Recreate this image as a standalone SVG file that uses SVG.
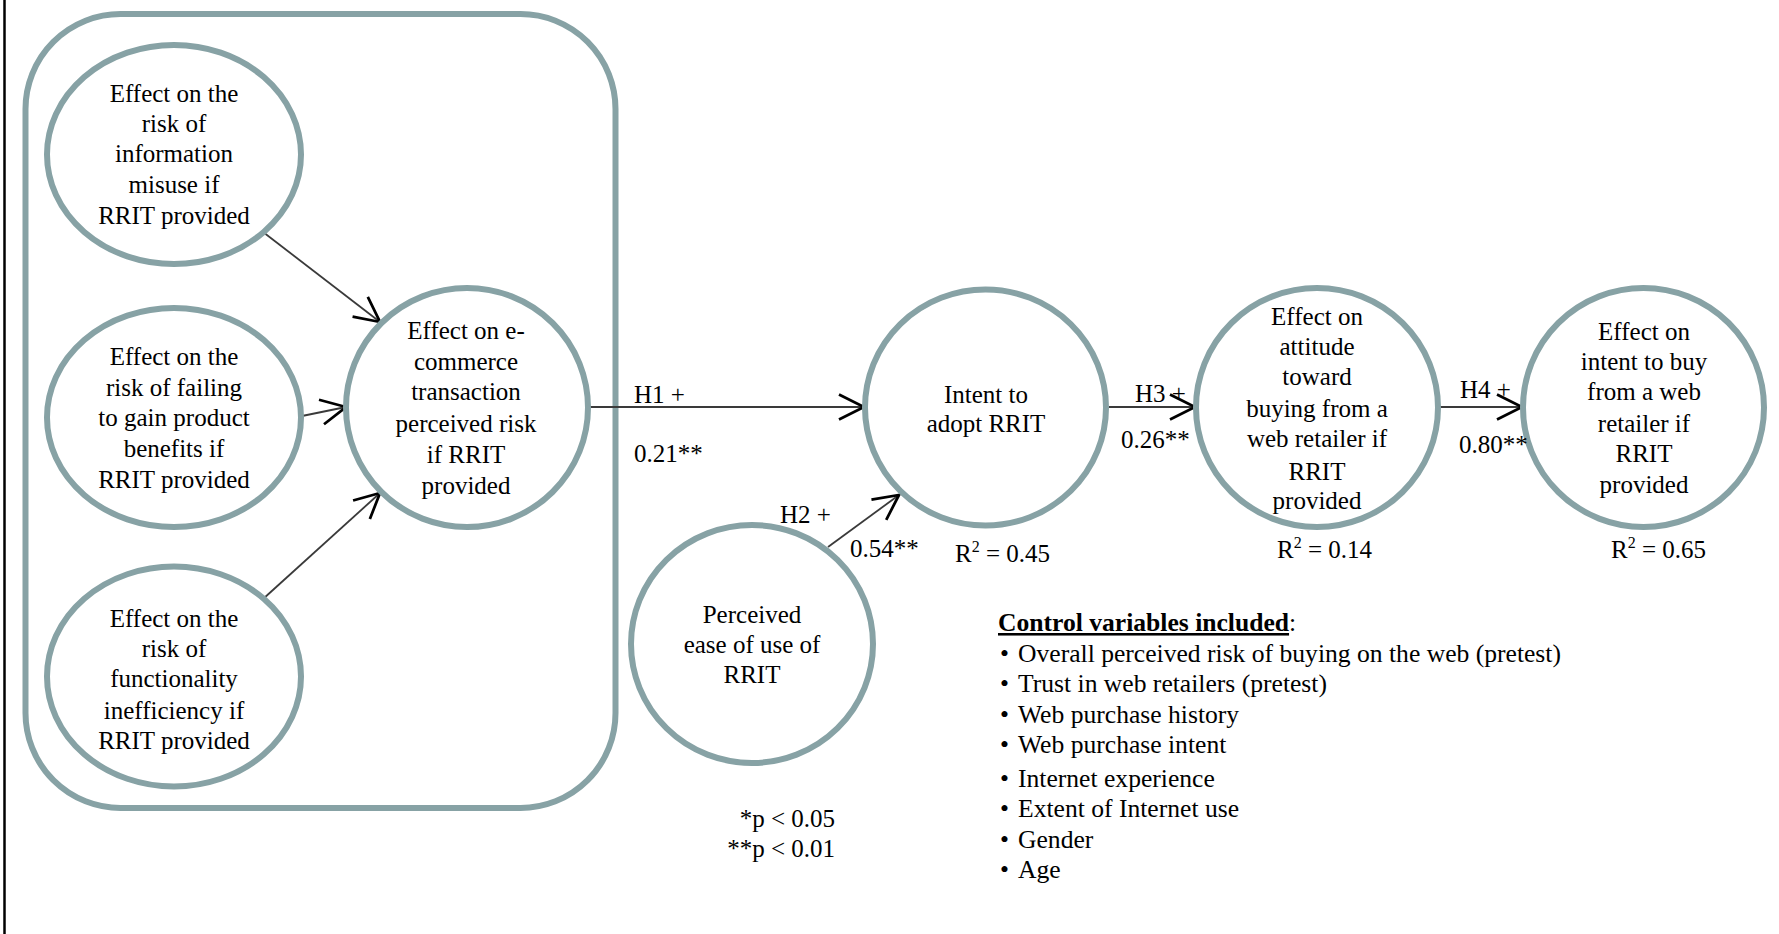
<svg xmlns="http://www.w3.org/2000/svg" width="1779" height="934" viewBox="0 0 1779 934">
  <style>
    .node { fill: #ffffff; stroke: #87a2a5; stroke-width: 6; }
    .frame { fill: none; stroke: #87a2a5; stroke-width: 6; }
    .lbl { font-family: "Liberation Serif", "Times New Roman", serif; font-size: 25px; fill: #000000; }
    .mid { text-anchor: middle; }
    .edge { fill: none; stroke: #3a3a3a; stroke-width: 1.8; marker-end: url(#open); }
    .sup { font-size: 16px; }
    .list { font-size: 25.6px; }
  </style>
  <defs>
    <marker id="open" markerUnits="userSpaceOnUse" markerWidth="30" markerHeight="30" viewBox="-22 -12 24 24" refX="0" refY="0" orient="auto">
      <path d="M -20 -10 L 0 0 L -20 10" fill="none" stroke="#000000" stroke-width="2.2"/>
    </marker>
  </defs>

  <rect width="1779" height="934" fill="#ffffff"/>
  <!-- page edge rule -->
  <line x1="4.5" y1="0" x2="4.5" y2="934" stroke="#000000" stroke-width="2.5"/>

  <!-- grouping frame around the risk constructs -->
  <rect id="risk-frame" class="frame" x="25.5" y="14" width="590" height="794" rx="95" ry="95"/>

  <g id="connectors">
    <line class="edge" x1="263" y1="232" x2="380" y2="322"/>
    <line class="edge" x1="302" y1="416" x2="346" y2="407"/>
    <line class="edge" x1="263" y1="599" x2="380" y2="493"/>
    <line class="edge" x1="590" y1="407" x2="864" y2="407"/>
    <line class="edge" x1="828" y1="547" x2="899" y2="495"/>
    <line class="edge" x1="1109" y1="407" x2="1195" y2="407"/>
    <line class="edge" x1="1440" y1="407" x2="1522" y2="407"/>
  </g>

  <g id="node-info-misuse">
    <ellipse class="node" cx="174" cy="154.5" rx="127" ry="109.5"/>
    <text class="lbl mid" x="174" y="102">Effect on the</text>
    <text class="lbl mid" x="174" y="132">risk of</text>
    <text class="lbl mid" x="174" y="162">information</text>
    <text class="lbl mid" x="174" y="193">misuse if</text>
    <text class="lbl mid" x="174" y="224">RRIT provided</text>
  </g>

  <g id="node-product-benefits">
    <ellipse class="node" cx="174" cy="417.5" rx="127" ry="109.5"/>
    <text class="lbl mid" x="174" y="365">Effect on the</text>
    <text class="lbl mid" x="174" y="396">risk of failing</text>
    <text class="lbl mid" x="174" y="426">to gain product</text>
    <text class="lbl mid" x="174" y="457">benefits if</text>
    <text class="lbl mid" x="174" y="488">RRIT provided</text>
  </g>

  <g id="node-functionality">
    <ellipse class="node" cx="174" cy="676.5" rx="127" ry="110"/>
    <text class="lbl mid" x="174" y="627">Effect on the</text>
    <text class="lbl mid" x="174" y="657">risk of</text>
    <text class="lbl mid" x="174" y="687">functionality</text>
    <text class="lbl mid" x="174" y="719">inefficiency if</text>
    <text class="lbl mid" x="174" y="749">RRIT provided</text>
  </g>

  <g id="node-transaction-risk">
    <ellipse class="node" cx="467" cy="407.5" rx="121" ry="119.5"/>
    <text class="lbl mid" x="466" y="339">Effect on e-</text>
    <text class="lbl mid" x="466" y="370">commerce</text>
    <text class="lbl mid" x="466" y="400">transaction</text>
    <text class="lbl mid" x="466" y="432">perceived risk</text>
    <text class="lbl mid" x="466" y="463">if RRIT</text>
    <text class="lbl mid" x="466" y="494">provided</text>
  </g>

  <g id="node-ease-of-use">
    <ellipse class="node" cx="752" cy="644" rx="121" ry="119"/>
    <text class="lbl mid" x="752" y="623">Perceived</text>
    <text class="lbl mid" x="752" y="653">ease of use of</text>
    <text class="lbl mid" x="752" y="683">RRIT</text>
  </g>

  <g id="node-intent-adopt">
    <ellipse class="node" cx="985.5" cy="407.5" rx="120.5" ry="118"/>
    <text class="lbl mid" x="986" y="403">Intent to</text>
    <text class="lbl mid" x="986" y="432">adopt RRIT</text>
  </g>

  <g id="node-attitude">
    <ellipse class="node" cx="1317" cy="407.5" rx="121" ry="119.5"/>
    <text class="lbl mid" x="1317" y="325">Effect on</text>
    <text class="lbl mid" x="1317" y="355">attitude</text>
    <text class="lbl mid" x="1317" y="385">toward</text>
    <text class="lbl mid" x="1317" y="417">buying from a</text>
    <text class="lbl mid" x="1317" y="447">web retailer if</text>
    <text class="lbl mid" x="1317" y="480">RRIT</text>
    <text class="lbl mid" x="1317" y="509">provided</text>
  </g>

  <g id="node-intent-buy">
    <ellipse class="node" cx="1643.5" cy="407.5" rx="120.5" ry="119.5"/>
    <text class="lbl mid" x="1644" y="340">Effect on</text>
    <text class="lbl mid" x="1644" y="370">intent to buy</text>
    <text class="lbl mid" x="1644" y="400">from a web</text>
    <text class="lbl mid" x="1644" y="432">retailer if</text>
    <text class="lbl mid" x="1644" y="462">RRIT</text>
    <text class="lbl mid" x="1644" y="493">provided</text>
  </g>

  <g id="path-labels">
    <text class="lbl" x="634" y="403">H1 +</text>
    <text class="lbl" x="634" y="462">0.21**</text>
    <text class="lbl" x="780" y="523">H2 +</text>
    <text class="lbl" x="850" y="557">0.54**</text>
    <text class="lbl" x="1135" y="402">H3 +</text>
    <text class="lbl" x="1121" y="448">0.26**</text>
    <text class="lbl" x="1460" y="398">H4 +</text>
    <text class="lbl" x="1459" y="453">0.80**</text>
    <text class="lbl" x="955" y="562">R<tspan class="sup" dy="-10">2</tspan><tspan dy="10"> = 0.45</tspan></text>
    <text class="lbl" x="1277" y="558">R<tspan class="sup" dy="-10">2</tspan><tspan dy="10"> = 0.14</tspan></text>
    <text class="lbl" x="1611" y="558">R<tspan class="sup" dy="-10">2</tspan><tspan dy="10"> = 0.65</tspan></text>
  </g>

  <g id="significance-key">
    <text class="lbl" x="835" y="827" text-anchor="end">*p &lt; 0.05</text>
    <text class="lbl" x="835" y="857" text-anchor="end">**p &lt; 0.01</text>
  </g>

  <g id="control-variables" class="lbl list">
    <text x="998" y="631"><tspan font-weight="bold" text-decoration="underline">Control variables included</tspan>:</text>
    <text x="1000" y="662">•</text>
    <text x="1018" y="662">Overall perceived risk of buying on the web (pretest)</text>
    <text x="1000" y="692">•</text>
    <text x="1018" y="692">Trust in web retailers (pretest)</text>
    <text x="1000" y="723">•</text>
    <text x="1018" y="723">Web purchase history</text>
    <text x="1000" y="753">•</text>
    <text x="1018" y="753">Web purchase intent</text>
    <text x="1000" y="787">•</text>
    <text x="1018" y="787">Internet experience</text>
    <text x="1000" y="817">•</text>
    <text x="1018" y="817">Extent of Internet use</text>
    <text x="1000" y="848">•</text>
    <text x="1018" y="848">Gender</text>
    <text x="1000" y="878">•</text>
    <text x="1018" y="878">Age</text>
  </g>
</svg>
